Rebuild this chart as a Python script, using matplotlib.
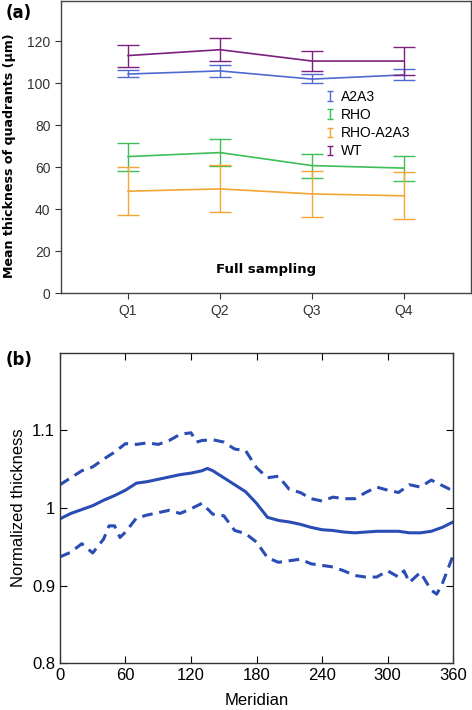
import numpy as np
import matplotlib
matplotlib.use("Agg")
import matplotlib.pyplot as plt
from matplotlib.legend_handler import HandlerErrorbar

# ---- panel (a): mean thickness of quadrants ----
quadrants = ["Q1", "Q2", "Q3", "Q4"]
groups = ["A2A3", "RHO", "RHO-A2A3", "WT"]
colors = ["#4F6AD0", "#3DBF55", "#F5A534", "#7D1F7F"]
means = {
    "A2A3": [104.4, 105.9, 102.0, 104.0],
    "RHO": [65.1, 67.0, 60.8, 59.6],
    "RHO-A2A3": [48.6, 49.7, 47.3, 46.4],
    "WT": [113.2, 116.0, 110.6, 110.6],
}
err_low = {
    "A2A3": [103.0, 102.9, 100.1, 101.4],
    "RHO": [58.4, 60.4, 55.1, 53.5],
    "RHO-A2A3": [37.4, 38.9, 36.3, 35.2],
    "WT": [107.9, 110.6, 105.9, 104.0],
}
err_high = {
    "A2A3": [106.2, 108.8, 104.3, 106.6],
    "RHO": [71.6, 73.6, 66.5, 65.4],
    "RHO-A2A3": [60.1, 61.2, 58.2, 57.6],
    "WT": [118.4, 121.6, 115.5, 117.5],
}

# ---- panel (b): normalized thickness vs meridian ----
mer = [0, 10, 20, 30, 40, 50, 60, 70, 80, 90, 100, 110, 120, 130, 135, 140,
       150, 160, 170, 180, 190, 200, 210, 220, 230, 240, 250, 260, 270, 280,
       290, 300, 310, 320, 330, 340, 350, 360]
mean_thk = [0.986, 0.993, 0.998, 1.003, 1.010, 1.016, 1.023, 1.032, 1.034,
            1.037, 1.040, 1.043, 1.045, 1.048, 1.051, 1.048, 1.039, 1.030,
            1.021, 1.006, 0.988, 0.984, 0.982, 0.979, 0.975, 0.972, 0.971,
            0.969, 0.968, 0.969, 0.970, 0.970, 0.970, 0.968, 0.968, 0.970,
            0.975, 0.982]
mer_up = [0, 10, 20, 30, 40, 50, 60, 70, 80, 90, 100, 110, 120, 125, 130, 140,
          150, 160, 170, 180, 190, 200, 210, 220, 230, 240, 250, 260, 270,
          280, 290, 300, 310, 320, 330, 340, 350, 360]
upper_thk = [1.030, 1.039, 1.048, 1.053, 1.063, 1.072, 1.083, 1.082, 1.084,
             1.082, 1.087, 1.095, 1.097, 1.085, 1.087, 1.088, 1.085, 1.076,
             1.074, 1.052, 1.039, 1.041, 1.024, 1.020, 1.012, 1.009, 1.014,
             1.012, 1.012, 1.020, 1.027, 1.023, 1.020, 1.030, 1.027, 1.036,
             1.029, 1.022]
mer_lo = [0, 10, 20, 30, 40, 45, 50, 55, 60, 70, 80, 90, 100, 110, 120, 130,
          140, 150, 160, 170, 180, 190, 200, 210, 220, 230, 240, 250, 260,
          270, 280, 290, 300, 310, 315, 320, 330, 340, 345, 350, 360]
lower_thk = [0.937, 0.943, 0.954, 0.942, 0.960, 0.977, 0.977, 0.962, 0.969,
             0.987, 0.991, 0.994, 0.997, 0.993, 0.999, 1.006, 0.992, 0.990,
             0.971, 0.967, 0.956, 0.936, 0.930, 0.932, 0.934, 0.928, 0.926,
             0.924, 0.919, 0.913, 0.911, 0.911, 0.919, 0.911, 0.919, 0.904,
             0.917, 0.894, 0.889, 0.902, 0.939]

fig = plt.figure(figsize=(4.72, 7.10), dpi=100)
plt.rcParams['font.family'] = ['Liberation Sans', 'DejaVu Sans']

# panel (a)
ax = fig.add_axes([0.129, 0.587, 0.869, 0.411])
x = np.arange(1, len(quadrants) + 1)
handles = []
for g, c in zip(groups, colors):
    m = np.array(means[g])
    lo = m - np.array(err_low[g])
    hi = np.array(err_high[g]) - m
    ax.plot(x, m, color=c, lw=1.2)
    ax.errorbar(x, m, yerr=[lo, hi], fmt='none', ecolor=c, elinewidth=1.0,
                capsize=8, capthick=1.0)
    # proxy for the legend (small "I" symbol), drawn outside the view
    h = ax.errorbar([-5], [0], yerr=[1], fmt='none', ecolor=c,
                    elinewidth=1.0, capsize=2, capthick=1.0, label=g)
    handles.append(h)

ax.set_xlim(0.27, 4.73)
ax.set_ylim(0, 139)
ax.set_xticks(x)
ax.set_xticklabels(quadrants)
ax.set_yticks(np.arange(0, 121, 20))
ax.tick_params(direction='out', length=4, labelsize=10, colors='#333333')
for s in ax.spines.values():
    s.set_color('#444444')
    s.set_linewidth(1.0)
ax.set_ylabel("Mean thickness of quadrants (\u03bcm)", fontsize=9.1,
              fontweight='bold', family=['DejaVu Sans'])
ax.yaxis.set_label_coords(-0.11, 0.47)
ax.text(0.5, 0.08, "Full sampling", transform=ax.transAxes, ha='center',
        va='center', fontsize=9.5, fontweight='bold', family=['DejaVu Sans'])
leg = ax.legend(handles=handles, labels=groups, loc='upper left',
                bbox_to_anchor=(0.625, 0.73), frameon=False,
                fontsize=10, handlelength=0.5, handletextpad=0.5,
                labelspacing=0.3, borderpad=0.2,
                handler_map={type(handles[0]): HandlerErrorbar(xerr_size=0.35)})
fig.text(0.012, 0.981, "(a)", fontsize=12, fontweight='bold',
         family=['DejaVu Sans'], va='center')

# panel (b)
bx = fig.add_axes([0.127, 0.066, 0.833, 0.437])
blue = "#2A4DB5"
bx.plot(mer, mean_thk, color=blue, lw=2.2)
bx.plot(mer_up, upper_thk, color=blue, lw=2.2, ls=(0, (3.5, 2.2)))
bx.plot(mer_lo, lower_thk, color=blue, lw=2.2, ls=(0, (3.5, 2.2)))
bx.set_xlim(0, 360)
bx.set_ylim(0.8, 1.2)
bx.set_xticks(np.arange(0, 361, 60))
bx.set_yticks([0.8, 0.9, 1.0, 1.1])
bx.set_yticklabels(["0.8", "0.9", "1", "1.1"])
bx.tick_params(direction='in', length=5, labelsize=12, top=True, right=True,
               colors='black')
for s in bx.spines.values():
    s.set_color('#333333')
    s.set_linewidth(1.0)
bx.set_xlabel("Meridian", fontsize=12, labelpad=7)
bx.set_ylabel("Normalized thickness", fontsize=12, labelpad=4)
fig.text(0.012, 0.493, "(b)", fontsize=12, fontweight='bold',
         family=['DejaVu Sans'], va='center')

fig.savefig("out.png", dpi=100)
